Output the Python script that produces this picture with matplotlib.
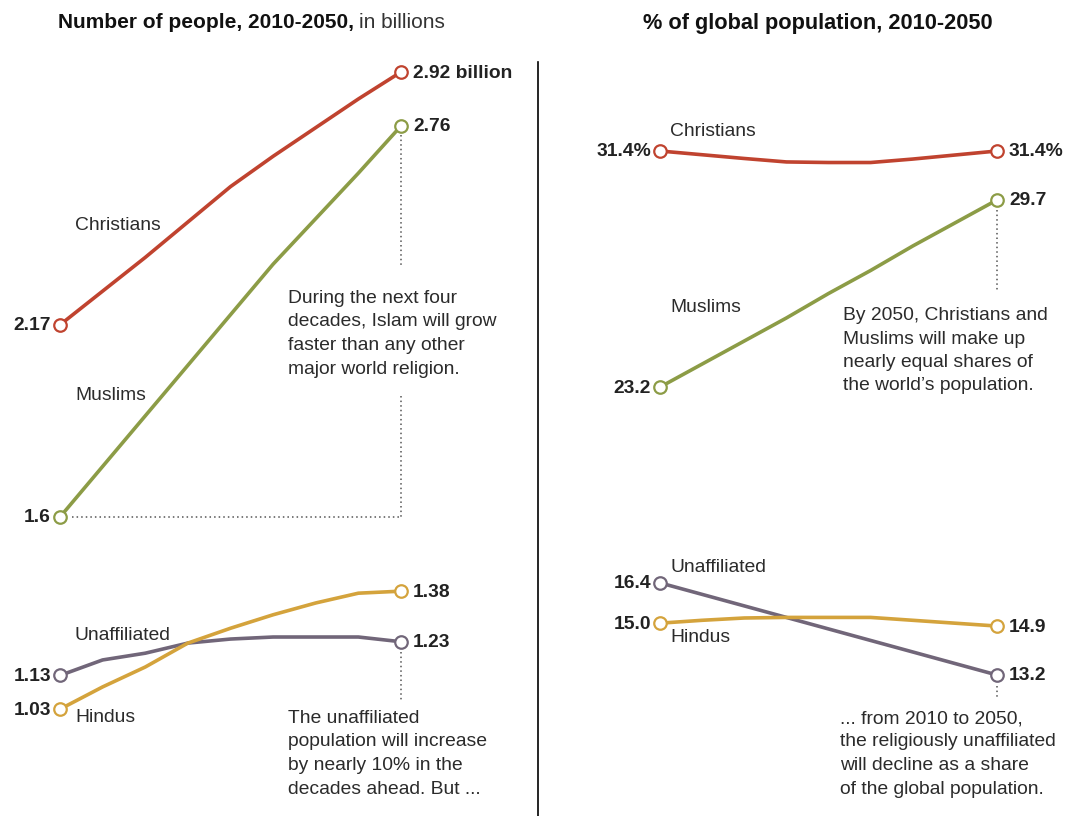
import matplotlib.pyplot as plt

W, H = 1069, 816

years = [2010, 2015, 2020, 2025, 2030, 2035, 2040, 2045, 2050]

# Number of people, in billions
christians_n = [2.17, 2.27, 2.37, 2.475, 2.58, 2.67, 2.755, 2.84, 2.92]
muslims_n = [1.60, 1.75, 1.90, 2.05, 2.20, 2.35, 2.485, 2.62, 2.76]
unaffiliated_n = [1.13, 1.176, 1.196, 1.226, 1.238, 1.244, 1.244, 1.244, 1.23]
hindus_n = [1.03, 1.096, 1.155, 1.226, 1.27, 1.31, 1.345, 1.374, 1.38]

# % of global population
christians_p = [31.4, 31.27, 31.14, 31.02, 31.0, 31.0, 31.12, 31.26, 31.4]
muslims_p = [23.2, 24.0, 24.8, 25.6, 26.45, 27.25, 28.1, 28.9, 29.7]
unaffiliated_p = [16.4, 16.0, 15.6, 15.2, 14.8, 14.4, 14.0, 13.6, 13.2]
hindus_p = [15.0, 15.1, 15.18, 15.2, 15.2, 15.2, 15.1, 15.0, 14.9]

left_start = ['2.17', '1.6', '1.13', '1.03']
left_end = ['2.92 billion', '2.76', '1.23', '1.38']
right_start = ['31.4%', '23.2', '16.4', '15.0']
right_end = ['31.4%', '29.7', '13.2', '14.9']

colors = ['#c0432f', '#8c9c46', '#716679', '#d4a33c']

plt.rcParams['font.family'] = ['Liberation Sans', 'DejaVu Sans']
TXT = '#222222'
NOTE = '#2b2b2b'
FS = 13.9


def fx(x):
    return x / W


def fy(y):
    return 1 - y / H


fig = plt.figure(figsize=(W / 100, H / 100), dpi=100)

axL = fig.add_axes([fx(60), fy(517), (401 - 60) / W, (517 - 72) / H])
axL.set_xlim(2010, 2050)
axL.set_ylim(1.6, 2.92)
axR = fig.add_axes([fx(660), fy(675), (997 - 660) / W, (675 - 151) / H])
axR.set_xlim(2010, 2050)
axR.set_ylim(13.2, 31.4)
for ax in (axL, axR):
    ax.axis('off')

left_series = [christians_n, muslims_n, unaffiliated_n, hindus_n]
right_series = [christians_p, muslims_p, unaffiliated_p, hindus_p]

for ax, series, starts, ends in [(axL, left_series, left_start, left_end),
                                 (axR, right_series, right_start, right_end)]:
    for vals, c, s, e in zip(series, colors, starts, ends):
        ax.plot(years, vals, color=c, lw=2.6, clip_on=False, zorder=3,
                solid_capstyle='round', solid_joinstyle='round')
        ax.plot([years[0], years[-1]], [vals[0], vals[-1]], 'o', ms=9,
                mfc='white', mec=c, mew=1.6, clip_on=False, zorder=4)
        ax.annotate(s, (years[0], vals[0]), xytext=(-9, -1), textcoords='offset pixels',
                    ha='right', va='center', fontsize=FS, fontweight='bold', color=TXT,
                    annotation_clip=False)
        ax.annotate(e, (years[-1], vals[-1]), xytext=(12, -1), textcoords='offset pixels',
                    ha='left', va='center', fontsize=FS, fontweight='bold', color=TXT,
                    annotation_clip=False)

# series names
name_kw = dict(fontsize=FS, color=NOTE, va='center', ha='left')
fig.text(fx(75), fy(226), 'Christians', **name_kw)
fig.text(fx(75), fy(395), 'Muslims', **name_kw)
fig.text(fx(75), fy(636), 'Unaffiliated', **name_kw)
fig.text(fx(75), fy(718), 'Hindus', **name_kw)
fig.text(fx(670), fy(131), 'Christians', **name_kw)
fig.text(fx(670), fy(308), 'Muslims', **name_kw)
fig.text(fx(670), fy(568), 'Unaffiliated', **name_kw)
fig.text(fx(670), fy(638), 'Hindus', **name_kw)

# notes
note_kw = dict(fontsize=FS, color=NOTE, va='top', ha='left', linespacing=1.5)
fig.text(fx(288), fy(290), 'During the next four\ndecades, Islam will grow\n'
         'faster than any other\nmajor world religion.', **note_kw)
fig.text(fx(288), fy(710), 'The unaffiliated\npopulation will increase\n'
         'by nearly 10% in the\ndecades ahead. But ...', **note_kw)
fig.text(fx(843), fy(307), 'By 2050, Christians and\nMuslims will make up\n'
         'nearly equal shares of\nthe world\u2019s population.', **note_kw)
fig.text(fx(840), fy(710), '... from 2010 to 2050,\nthe religiously unaffiliated\n'
         'will decline as a share\nof the global population.', **note_kw)

# dotted leaders
dot = dict(color='#555555', lw=1.1, ls=(0, (1, 2)), clip_on=False, zorder=2)
axL.plot([2050, 2050], [2.733, 2.347], **dot)
axL.plot([2050, 2050], [1.96, 1.6], **dot)
axL.plot([2011.4, 2050], [1.6, 1.6], **dot)
axL.plot([2050, 2050], [1.20, 1.057], **dot)
axR.plot([2050, 2050], [29.35, 26.57], **dot)
axR.plot([2050, 2050], [12.82, 12.42], **dot)

# divider
fig.add_artist(plt.Line2D([fx(538), fx(538)], [fy(62), fy(816)], color='black', lw=1.2))

# titles
t1 = fig.text(fx(58), fy(23), 'Number of people, 2010-2050,', fontsize=15,
              fontweight='bold', color='#111111', va='center', ha='left')
fig.canvas.draw()
bb = t1.get_window_extent()
fig.text(bb.x1 / W + 5 / W, fy(23), 'in billions', fontsize=15,
         color='#333333', va='center', ha='left')
fig.text(fx(818), fy(23), '% of global population, 2010-2050', fontsize=15.7,
         fontweight='bold', color='#111111', va='center', ha='center')

plt.savefig('out.png', dpi=100)
